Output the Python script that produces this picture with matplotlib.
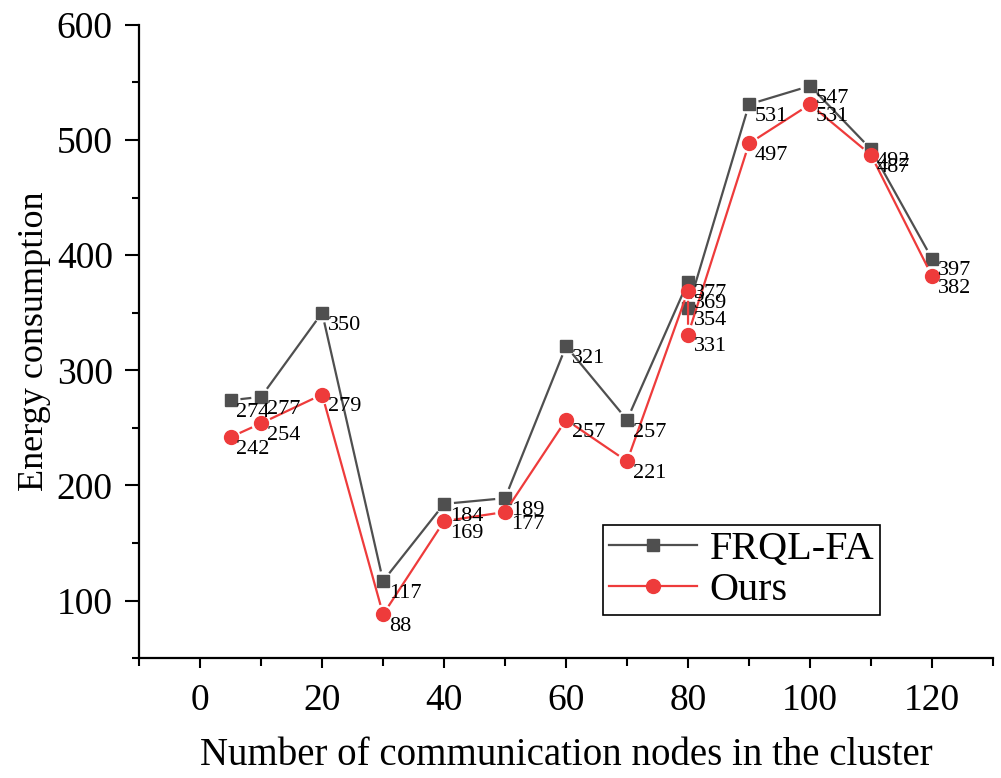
import numpy as np
import matplotlib
matplotlib.use("Agg")
import matplotlib.pyplot as plt
from matplotlib.lines import Line2D

plt.rcParams['font.family'] = ['Liberation Serif', 'DejaVu Serif']

# data (two readings at 80 nodes)
nodes = [5, 10, 20, 30, 40, 50, 60, 70, 80, 80, 90, 100, 110, 120]
frql_fa = [274, 277, 350, 117, 184, 189, 321, 257, 377, 354, 531, 547, 492, 397]
ours = [242, 254, 279, 88, 169, 177, 257, 221, 369, 331, 497, 531, 487, 382]

gray = '#4f4f4f'
red = '#ee3b3b'


def gapped_line(ax, x, y, gap, **kw):
    # origin style: line stops short of each symbol
    pts = ax.transData.transform(np.column_stack([x, y]))
    inv = ax.transData.inverted()
    lx, ly = [], []
    for p0, p1 in zip(pts[:-1], pts[1:]):
        d = p1 - p0
        L = np.hypot(d[0], d[1])
        if L <= 2 * gap:
            continue
        u = d / L
        a = inv.transform(p0 + u * gap)
        b = inv.transform(p1 - u * gap)
        lx += [a[0], b[0], np.nan]
        ly += [a[1], b[1], np.nan]
    ax.plot(lx, ly, **kw)


fig = plt.figure(figsize=(10.01, 7.78), dpi=100)
ax = fig.add_axes([0.139, 0.154, 0.853, 0.814])
ax.set_xlim(-10, 130)
ax.set_ylim(50, 600)

gapped_line(ax, nodes, frql_fa, 11, color=gray, lw=1.6, zorder=2)
ax.plot(nodes, frql_fa, ls='none', marker='s', ms=9, color=gray, zorder=3)
gapped_line(ax, nodes, ours, 11, color=red, lw=1.6, zorder=4)
ax.plot(nodes, ours, ls='none', marker='o', ms=10, color=red, zorder=5)

for x, y in zip(nodes, frql_fa):
    ax.annotate(str(y), (x, y), xytext=(4, -2), textcoords='offset points',
                ha='left', va='top', fontsize=16, zorder=6)
for x, y in zip(nodes, ours):
    ax.annotate(str(y), (x, y), xytext=(4, -2), textcoords='offset points',
                ha='left', va='top', fontsize=16, zorder=6)

ax.set_xticks(np.arange(0, 121, 20))
ax.set_xticks(np.arange(-10, 131, 10), minor=True)
ax.set_yticks(np.arange(100, 601, 100))
ax.set_yticks(np.arange(50, 601, 50), minor=True)
ax.tick_params(axis='both', which='both', direction='out', width=1.5, labelsize=27)
ax.tick_params(axis='y', which='major', length=10, pad=9)
ax.tick_params(axis='y', which='minor', length=5)
ax.tick_params(axis='x', which='major', length=7, pad=11)
ax.tick_params(axis='x', which='minor', length=6)

for s in ['top', 'right']:
    ax.spines[s].set_visible(False)
for s in ['left', 'bottom']:
    ax.spines[s].set_linewidth(1.6)

ax.set_xlabel('Number of communication nodes in the cluster', fontsize=28, labelpad=14)
ax.set_ylabel('Energy consumption', fontsize=26, labelpad=4)

handles = [Line2D([], [], color=gray, lw=1.6, marker='s', ms=9),
           Line2D([], [], color=red, lw=1.6, marker='o', ms=10)]
leg = ax.legend(handles, ['FRQL-FA', 'Ours'], loc='lower left',
                bbox_to_anchor=(0.543, 0.068), borderaxespad=0, fontsize=29,
                handlelength=2.2, handletextpad=0.3, labelspacing=0.1,
                borderpad=0.15, fancybox=False, edgecolor='black', framealpha=1)
leg.get_frame().set_linewidth(1.2)

fig.savefig('out.png', dpi=100)
